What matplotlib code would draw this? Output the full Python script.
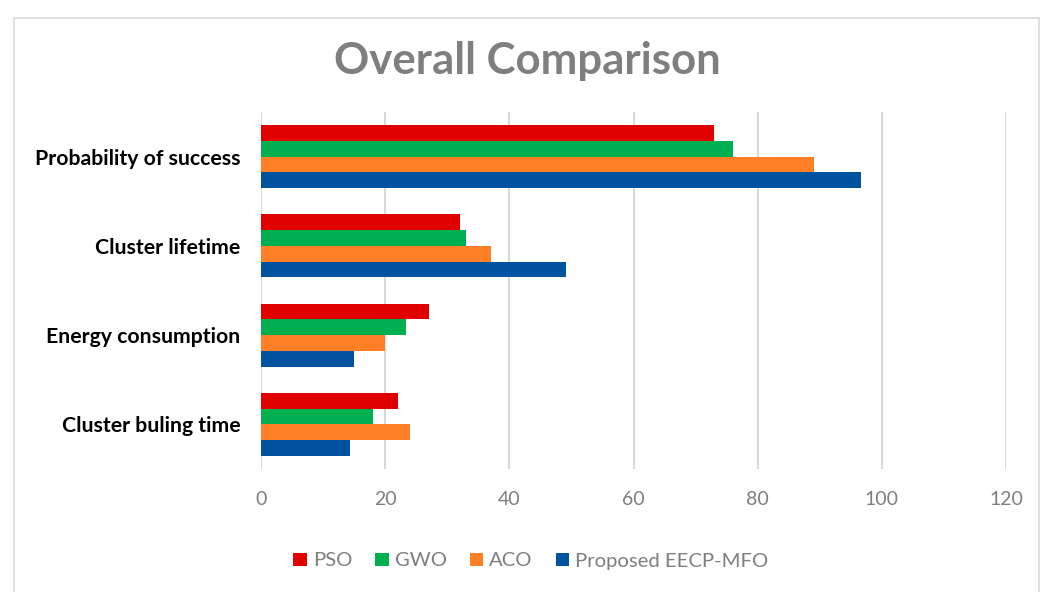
import numpy as np
import matplotlib.pyplot as plt
from matplotlib.patches import Rectangle

# * Chart data (categories listed top to bottom)
categories = ['Probability of success', 'Cluster lifetime',
              'Energy consumption', 'Cluster buling time']
series_names = ['PSO', 'GWO', 'ACO', 'Proposed EECP-MFO']
pso = [73, 32, 27, 22]
gwo = [76, 33, 23.4, 18]
aco = [89, 37, 20, 24]
eecp_mfo = [96.7, 49.2, 15, 14.3]
x_ticks = [0, 20, 40, 60, 80, 100, 120]

colors = ['#e00000', '#00b050', '#ff7f27', '#00549f']
values = [pso, gwo, aco, eecp_mfo]

plt.rcParams['font.family'] = ['Lato', 'DejaVu Sans']

fig = plt.figure(figsize=(10.47, 5.92), dpi=100)
ax = fig.add_axes([261 / 1047, 1 - 469 / 592, 745 / 1047, 357 / 592])

# * Grouped horizontal bars
y = np.arange(len(categories))
bar_h = 0.176
for i, (name, vals, c) in enumerate(zip(series_names, values, colors)):
    offset = (i - 1.5) * bar_h
    ax.barh(y + offset, vals, height=bar_h, color=c, label=name, zorder=3)

ax.set_ylim(len(categories) - 0.5, -0.5)
ax.set_xlim(0, 120)
ax.set_xticks(x_ticks)
ax.set_yticks(y)
ax.set_yticklabels(categories, fontsize=15.3, fontweight='bold', color='black')
ax.tick_params(axis='y', length=0, pad=15)
ax.tick_params(axis='x', length=0, pad=16, labelsize=14, labelcolor='#7f7f7f')

ax.grid(axis='x', color='#d9d9d9', linewidth=1.5, zorder=0)
for s in ax.spines.values():
    s.set_visible(False)

# * Title
fig.text(527 / 1047, 1 - 61 / 592, 'Overall Comparison', ha='center', va='center',
         fontsize=31.5, fontweight='bold', color='#7f7f7f')

# * Legend below the axis
ax.legend(loc='center', bbox_to_anchor=(531 / 1047, 1 - 561 / 592),
          bbox_transform=fig.transFigure, ncol=4, frameon=False,
          fontsize=14.6, labelcolor='#7f7f7f', handlelength=0.65, handleheight=0.65,
          handletextpad=0.3, columnspacing=1.15)

# * Chart area border
fig.patches.append(Rectangle((14 / 1047, -0.05), 1025 / 1047, 1.05 - 18 / 592,
                             transform=fig.transFigure, fill=False,
                             edgecolor='#d9d9d9', linewidth=1.2))

fig.savefig('out.png', dpi=100)
